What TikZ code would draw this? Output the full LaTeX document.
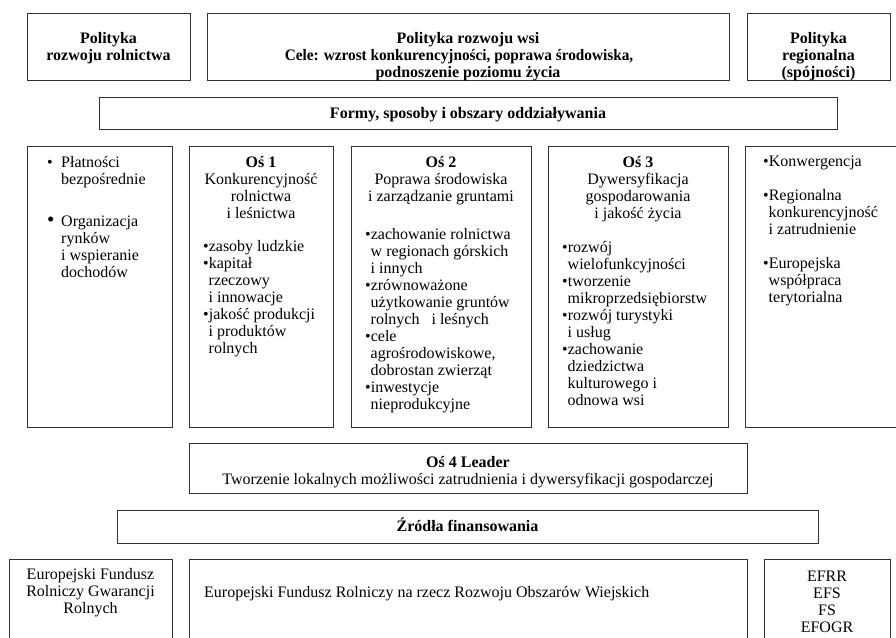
\documentclass[tikz,border=0pt]{standalone}
\usepackage{fontspec}
\setmainfont{Liberation Serif}
\newcommand\bl{\textbullet}
\newcommand\ind{\hspace*{5.5pt}}
\begin{document}
\begin{tikzpicture}[x=1pt,y=-1pt,
  frame/.style={draw=black!80, line width=1.3pt, anchor=north west, inner sep=0pt},
  txt/.style={inner sep=0pt, font=\fontsize{16}{17}\selectfont, text=black},
  ]
\useasboundingbox (0,0) rectangle (896,637);
\clip (0,0) rectangle (896,637);

% ---- boxes ----
\node[frame, minimum width=163pt, minimum height=67pt] (pr) at (27,13) {};
\node[frame, minimum width=522pt, minimum height=67pt] (pw) at (207,13) {};
\node[frame, minimum width=143pt, minimum height=67pt] (pg) at (747,13) {};
\node[frame, minimum width=738pt, minimum height=32pt] (fo) at (99,97) {};
\node[frame, minimum width=145pt, minimum height=281pt] (b1) at (27,146) {};
\node[frame, minimum width=144pt, minimum height=281pt] (b2) at (189,146) {};
\node[frame, minimum width=180pt, minimum height=281pt] (b3) at (351,146) {};
\node[frame, minimum width=180pt, minimum height=281pt] (b4) at (548,146) {};
\node[frame, minimum width=165pt, minimum height=281pt] (b5) at (745,146) {};
\node[frame, minimum width=558pt, minimum height=50pt] (o4) at (189,443) {};
\node[frame, minimum width=701pt, minimum height=33pt] (zr) at (117,510) {};
\node[frame, minimum width=163pt, minimum height=101pt] (f1) at (9,559) {};
\node[frame, minimum width=558pt, minimum height=101pt] (f2) at (189,559) {};
\node[frame, minimum width=126pt, minimum height=101pt] (f3) at (764,559) {};

% ---- top row ----
\node[txt, anchor=base] (tpr) at (108.5,43) {\bfseries\begin{tabular}[t]{@{}c@{}}Polityka\\rozwoju rolnictwa\end{tabular}};
\node[txt, anchor=base] (tpw) at (468,43) {\bfseries\begin{tabular}[t]{@{}c@{}}Polityka rozwoju wsi\\\scalebox{0.955}[1]{Cele: wzrost konkurencyjności, poprawa środowiska,}\hspace*{18pt}\\podnoszenie poziomu życia\end{tabular}};
\node[txt, anchor=base] (tpg) at (818.5,43) {\bfseries\begin{tabular}[t]{@{}c@{}}Polityka\\regionalna\\(spójności)\end{tabular}};
\node[txt, anchor=base] (tfo) at (468,118) {\bfseries Formy, sposoby i obszary oddziaływania};

% ---- middle row ----
\node[txt, anchor=base west] (tb1) at (47,167) {\begin{tabular}[t]{@{}p{14pt}@{}l@{}}
\bl & Płatności\\
 & bezpośrednie\\[25pt]
{\fontsize{21}{17}\selectfont\bl} & Organizacja\\
 & rynków\\
 & i wspieranie\\
 & dochodów
\end{tabular}};

\node[txt, anchor=base] (hb2) at (261,167) {\begin{tabular}[t]{@{}c@{}}\textbf{Oś 1}\\Konkurencyjność\\rolnictwa\\i leśnictwa\end{tabular}};
\node[txt, anchor=base west] (lb2) at (203,251) {\begin{tabular}[t]{@{}l@{}}
\bl zasoby ludzkie\\
\bl kapitał\\
\ind rzeczowy\\
\ind i innowacje\\
\bl jakość produkcji\\
\ind i produktów\\
\ind rolnych
\end{tabular}};

\node[txt, anchor=base] (hb3) at (441,167) {\begin{tabular}[t]{@{}c@{}}\textbf{Oś 2}\\Poprawa środowiska\\i zarządzanie gruntami\end{tabular}};
\node[txt, anchor=base west] (lb3) at (365,239) {\begin{tabular}[t]{@{}l@{}}
\bl zachowanie rolnictwa\\
\ind w regionach górskich\\
\ind i innych\\
\bl zrównoważone\\
\ind użytkowanie gruntów\\
\ind rolnych\hspace{12pt}i leśnych\\
\bl cele\\
\ind agrośrodowiskowe,\\
\ind dobrostan zwierząt\\
\bl inwestycje\\
\ind nieprodukcyjne
\end{tabular}};

\node[txt, anchor=base] (hb4) at (638,167) {\begin{tabular}[t]{@{}c@{}}\textbf{Oś 3}\\Dywersyfikacja\\gospodarowania\\i jakość życia\end{tabular}};
\node[txt, anchor=base west] (lb4) at (562,252) {\begin{tabular}[t]{@{}l@{}}
\bl rozwój\\
\ind wielofunkcyjności\\
\bl tworzenie\\
\ind mikroprzedsiębiorstw\\
\bl rozwój turystyki\\
\ind i usług\\
\bl zachowanie\\
\ind dziedzictwa\\
\ind kulturowego i\\
\ind odnowa wsi
\end{tabular}};

\node[txt, anchor=base west] (lb5) at (763,166) {\begin{tabular}[t]{@{}l@{}}
\bl Konwergencja\\[17pt]
\bl Regionalna\\
\ind konkurencyjność\\
\ind i zatrudnienie\\[17pt]
\bl Europejska\\
\ind współpraca\\
\ind terytorialna
\end{tabular}};

% ---- lower part ----
\node[txt, anchor=base] (to4) at (468,467) {\begin{tabular}[t]{@{}c@{}}\textbf{Oś 4 Leader}\\Tworzenie lokalnych możliwości zatrudnienia i dywersyfikacji gospodarczej\end{tabular}};
\node[txt, anchor=base] (tzr) at (467.5,531) {\bfseries Źródła finansowania};
\node[txt, anchor=base] (tf1) at (90.5,579) {\begin{tabular}[t]{@{}c@{}}Europejski Fundusz\\Rolniczy Gwarancji\\Rolnych\end{tabular}};
\node[txt, anchor=base west] (tf2) at (204,597) {Europejski Fundusz Rolniczy na rzecz Rozwoju Obszarów Wiejskich};
\node[txt, anchor=base] (tf3) at (827,581) {\begin{tabular}[t]{@{}c@{}}EFRR\\EFS\\FS\\EFOGR\end{tabular}};
\end{tikzpicture}
\end{document}
